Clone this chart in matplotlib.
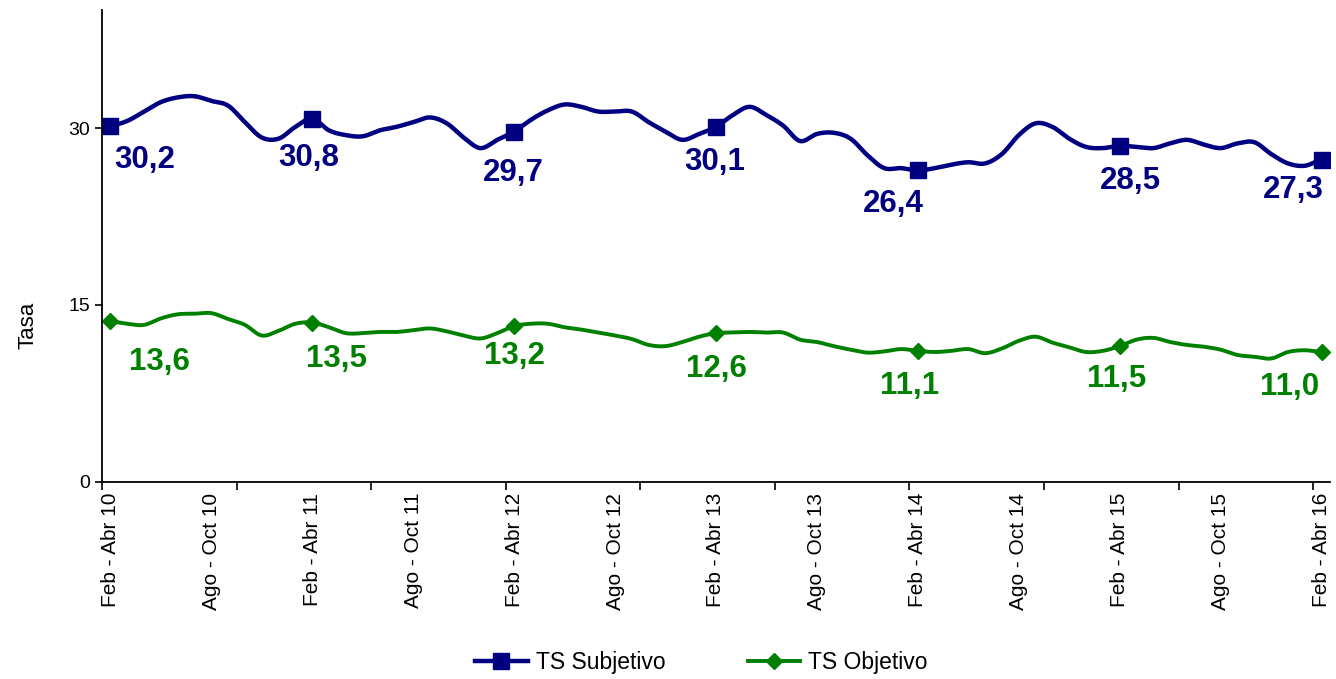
import numpy as np
from matplotlib import pyplot as plt

plt.rcParams['font.family'] = ['Liberation Sans', 'DejaVu Sans']

# monthly rolling quarters, Feb-Abr 2010 .. Feb-Abr 2016
years = ["10", "11", "12", "13", "14", "15", "16"]
labels = []
for k, yy in enumerate(years):
    labels.append("Feb - Abr " + yy)
    if k < len(years) - 1:
        labels += [""] * 5 + ["Ago - Oct " + yy] + [""] * 5

subjetivo = [30.2, 30.6, 31.4, 32.2, 32.6, 32.7, 32.3, 31.9, 30.5, 29.2, 29.1, 30.1,
             30.8, 29.8, 29.4, 29.3, 29.8, 30.1, 30.5, 30.9, 30.4, 29.2, 28.3, 29.0,
             29.7, 30.7, 31.5, 32.0, 31.8, 31.4, 31.4, 31.4, 30.5, 29.7, 29.0, 29.5,
             30.1, 31.1, 31.8, 31.1, 30.2, 28.9, 29.5, 29.6, 29.1, 27.7, 26.6, 26.6,
             26.4, 26.6, 26.9, 27.1, 27.0, 27.8, 29.4, 30.4, 30.1, 29.1, 28.4, 28.3,
             28.5, 28.4, 28.3, 28.7, 29.0, 28.6, 28.3, 28.7, 28.8, 27.8, 27.0, 26.8,
             27.3]

objetivo = [13.6, 13.4, 13.3, 13.85, 14.2, 14.25, 14.3, 13.8, 13.3, 12.4, 12.8, 13.4,
            13.5, 13.1, 12.6, 12.6, 12.7, 12.7, 12.85, 13.0, 12.75, 12.4, 12.15, 12.6,
            13.2, 13.4, 13.4, 13.1, 12.9, 12.65, 12.4, 12.1, 11.6, 11.5, 11.85, 12.3,
            12.6, 12.65, 12.7, 12.65, 12.65, 12.05, 11.85, 11.5, 11.2, 10.95, 11.05, 11.25,
            11.1, 11.0, 11.1, 11.25, 10.9, 11.3, 11.95, 12.3, 11.8, 11.4, 11.0, 11.1,
            11.5, 12.05, 12.2, 11.85, 11.6, 11.45, 11.2, 10.75, 10.6, 10.45, 11.0, 11.15,
            11.0]

# label offsets (pixels, from marker) for the Feb-Abr points
off_subj = [(34, -34), (-3, -39), (-1, -41), (-1, -35), (-25, -34), (11, -35), (-28, -30)]
off_obj = [(49, -41), (24, -36), (0, -30), (0, -36), (-8, -35), (-3, -33), (-32, -35)]

NAVY = "#000080"
GREEN = "#008000"


def smooth(y, n=16):
    # catmull-rom, like excel's smoothed line
    y = np.asarray(y, float)
    p = np.concatenate([[y[0]], y, [y[-1]]])
    t = np.linspace(0, 1, n, endpoint=False)
    h00 = 2*t**3 - 3*t**2 + 1
    h10 = t**3 - 2*t**2 + t
    h01 = -2*t**3 + 3*t**2
    h11 = t**3 - t**2
    xs, ys = [], []
    for i in range(len(y) - 1):
        m1 = (p[i+2] - p[i]) / 2.0
        m2 = (p[i+3] - p[i+1]) / 2.0
        xs.append(i + t)
        ys.append(h00*p[i+1] + h10*m1 + h01*p[i+2] + h11*m2)
    xs.append([len(y) - 1])
    ys.append([y[-1]])
    return np.concatenate(xs), np.concatenate(ys)


fig = plt.figure(figsize=(13.36, 6.79), dpi=100)
ax = fig.add_axes([0.0763, 0.2906, 0.9192, 0.6944])

x = np.arange(len(subjetivo))
mk = x[::12]

for data, col, m, ms, lw, name, offs in [
        (subjetivo, NAVY, "s", 11, 3.2, "TS Subjetivo", off_subj),
        (objetivo, GREEN, "D", 8.5, 2.8, "TS Objetivo", off_obj)]:
    sx, sy = smooth(data)
    ax.plot(sx, sy, color=col, lw=lw, solid_capstyle="round")
    ax.plot(mk, np.asarray(data)[mk], ls="none", marker=m, ms=ms, color=col)
    ax.plot([], [], color=col, lw=lw, marker=m, ms=ms, label=name)
    for j, i in enumerate(mk):
        ax.annotate("{:.1f}".format(data[i]).replace(".", ","), (i, data[i]),
                    xytext=offs[j], textcoords="offset pixels",
                    ha="center", va="center", fontsize=22.5, fontweight="bold", color=col)

ax.set_xlim(-0.5, len(x) - 0.5)
ax.set_ylim(0, 40)
ax.set_yticks([0, 15, 30])
ax.tick_params(axis="y", labelsize=14, length=5, width=1.2, direction="out")

ax.set_xticks(x[::6])
ax.set_xticklabels([labels[i] for i in x[::6]], rotation=90, fontsize=15)
ax.set_xticks(np.arange(-0.5, len(x), 8), minor=True)
ax.tick_params(axis="x", which="major", length=0, pad=8)
ax.tick_params(axis="x", which="minor", length=6, width=1.2, direction="out")

for s in ["top", "right"]:
    ax.spines[s].set_visible(False)
for s in ["left", "bottom"]:
    ax.spines[s].set_linewidth(1.3)

ax.set_ylabel("Tasa", fontsize=16)
ax.yaxis.set_label_coords(-0.052, 0.332)

fig.legend(loc="center", bbox_to_anchor=(0.525, 0.024), ncol=2, frameon=False,
           fontsize=16.5, handlelength=2.3, columnspacing=3.6, handletextpad=0.35)

fig.savefig("out.png", dpi=100)
